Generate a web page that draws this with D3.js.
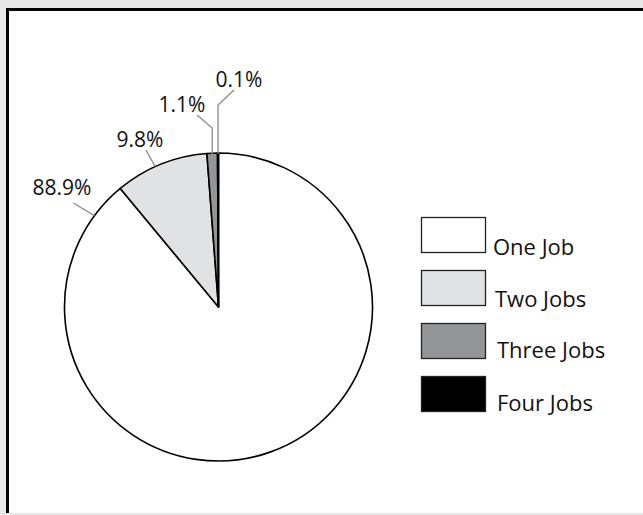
<!DOCTYPE html>
<html>
<head>
<meta charset="utf-8">
<script src="https://cdn.jsdelivr.net/npm/d3@7"></script>
<style>
  html, body { margin: 0; padding: 0; background: #e8e8e8; overflow: hidden; }
  svg { display: block; }
  text { font-family: "Open Sans", "Noto Sans", sans-serif; fill: #111; }
</style>
</head>
<body>
<svg id="chart" width="643" height="515"></svg>
<script>
// Number of jobs held
const categories = ["One Job", "Two Jobs", "Three Jobs", "Four Jobs"];
const values = [88.9, 9.8, 1.1, 0.1];
const valueLabels = ["88.9%", "9.8%", "1.1%", "0.1%"];
const fills = ["#ffffff", "#e1e2e3", "#939598", "#000000"];

const svg = d3.select("#chart");

// White panel, framed on its left and top edges
svg.append("rect")
  .attr("x", 9).attr("y", 11)
  .attr("width", 634).attr("height", 502)
  .attr("fill", "#ffffff");
svg.append("path")
  .attr("d", "M7.5,513V9.5H643")
  .attr("fill", "none")
  .attr("stroke", "#000").attr("stroke-width", 3);

const cx = 218.5, cy = 307, r = 154;

const pie = d3.pie().sort(null).value(d => d)
  .startAngle(0).endAngle(2 * Math.PI);
const arcs = pie(values);
const arc = d3.arc().innerRadius(0).outerRadius(r);

const g = svg.append("g").attr("transform", `translate(${cx},${cy})`);

g.selectAll("path.slice")
  .data(arcs)
  .join("path")
  .attr("class", "slice")
  .attr("d", arc)
  .attr("fill", (d, i) => fills[i])
  .attr("stroke", "#000")
  .attr("stroke-width", 1.6)
  .attr("stroke-linejoin", "round");

// Leader lines from the rim of each slice to its percentage label
const polar = (a, rad) => [rad * Math.sin(a), -rad * Math.cos(a)];
const mid = d => (d.startAngle + d.endAngle) / 2;

const leaders = [
  { start: () => polar(arcs[0].endAngle - 0.245, r), pts: [[-145, -104]], text: [-186, -112] },
  { start: () => polar(mid(arcs[1]) - 0.04, r), pts: [[-72.5, -157]], text: [-102, -160] },
  { start: () => polar(mid(arcs[2]), r - 1), rise: -179, pts: [[-21.5, -192]], text: [-60, -195] },
  { start: () => polar(mid(arcs[3]), r - 1), rise: -202, pts: [[15.5, -217]], text: [-3, -220] }
];

const line = d3.line();
leaders.forEach((L, i) => {
  const s = L.start();
  const pts = [s];
  if (L.rise !== undefined) pts.push([s[0], L.rise]);
  L.pts.forEach(p => pts.push(p));
  g.append("path")
    .attr("d", line(pts))
    .attr("fill", "none")
    .attr("stroke", "#8a8a8a")
    .attr("stroke-width", 1.3);
  g.append("text")
    .attr("x", L.text[0]).attr("y", L.text[1])
    .attr("font-size", 21)
    .text(valueLabels[i]);
});

// Legend
const legend = svg.append("g").attr("transform", "translate(421.5,217.5)");
const row = d3.scaleBand().domain(categories).range([0, 212]);
const textX = [71.5, 73.5, 75.5, 75.5];
const textY = [37.5, 36, 34.5, 34];
const items = legend.selectAll("g.item")
  .data(categories)
  .join("g")
  .attr("class", "item")
  .attr("transform", d => `translate(0,${row(d)})`);
items.append("rect")
  .attr("width", 64).attr("height", 35)
  .attr("fill", (d, i) => fills[i])
  .attr("stroke", "#222").attr("stroke-width", 1.3);
items.append("text")
  .attr("x", (d, i) => textX[i])
  .attr("y", (d, i) => textY[i])
  .attr("font-size", 22)
  .text(d => d);
</script>
</body>
</html>
